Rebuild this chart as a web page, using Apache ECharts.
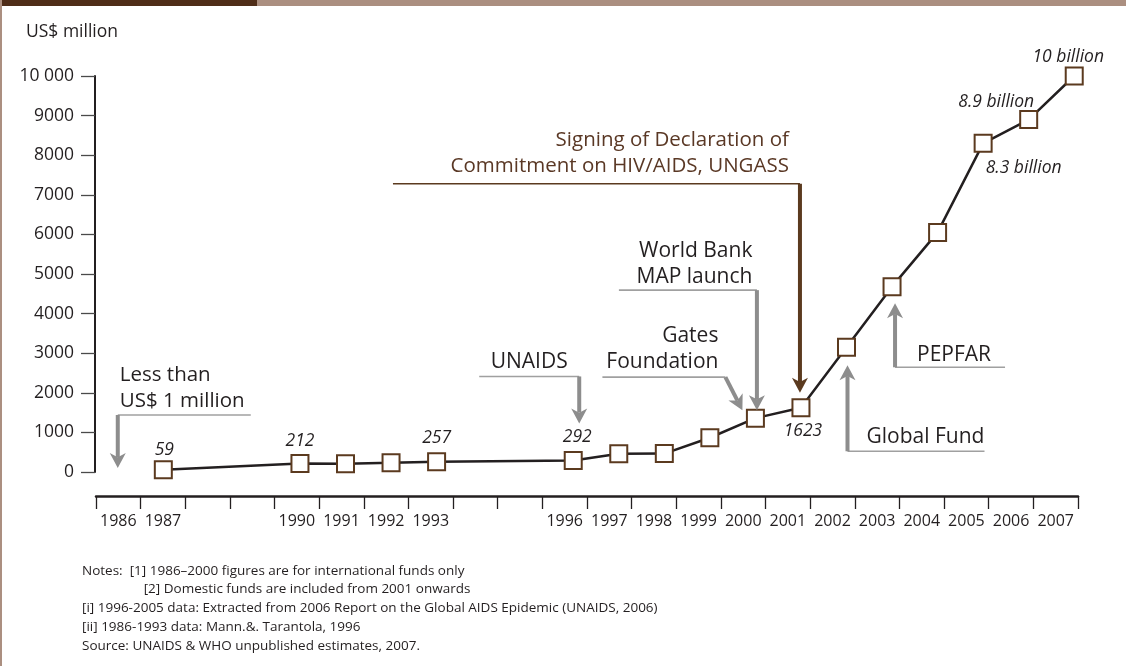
<!DOCTYPE html>
<html>
<head>
<meta charset="utf-8">
<script src="https://cdn.jsdelivr.net/npm/echarts@6/dist/echarts.min.js"></script>
<style>
  html, body { margin: 0; padding: 0; background: #ffffff; }
  #chart { width: 1126px; height: 666px; }
</style>
</head>
<body>
<div id="chart"></div>
<script>
// Annual funding for AIDS in low- and middle-income countries, US$ million
const years = ['1986', '1987', '1988', '1989', '1990', '1991', '1992', '1993', '1994', '1995', '1996',
               '1997', '1998', '1999', '2000', '2001', '2002', '2003', '2004', '2005', '2006', '2007'];
const tickLabels = ['1986', '1987', '1990', '1991', '1992', '1993', '1996', '1997', '1998', '1999',
                    '2000', '2001', '2002', '2003', '2004', '2005', '2006', '2007'];
const funding = [null, 59, null, null, 212, 210, 232, 257, null, null, 292,
                 462, 465, 865, 1360, 1623, 3150, 4680, 6050, 8300, 8900, 10000];
const valueLabels = {
  '1987': '59', '1990': '212', '1993': '257', '1996': '292', '2001': '1623',
  '2005': '8.3 billion', '2006': '8.9 billion', '2007': '10 billion'
};
const yTicks = { min: 0, max: 10000, step: 1000 };
const notesHead = 'Notes:';
const notes = [
  '[1] 1986\u20132000 figures are for international funds only',
  '[2] Domestic funds are included from 2001 onwards',
  '[i] 1996-2005 data: Extracted from 2006 Report on the Global AIDS Epidemic (UNAIDS, 2006)',
  '[ii] 1986-1993 data: Mann.&. Tarantola, 1996',
  'Source: UNAIDS & WHO unpublished estimates, 2007.'
];
// Milestones: [label, year, value the arrow points at]
const milestones = {
  less: ['Less than\nUS$ 1 million', '1986', 0],
  unaids: ['UNAIDS', '1996', 292],
  gates: ['Gates\nFoundation', '2000', 1360],
  worldBank: ['World Bank\nMAP launch', '2000', 1360],
  ungass: ['Signing of Declaration of\nCommitment on HIV/AIDS, UNGASS', '2001', 1623],
  globalFund: ['Global Fund', '2002', 3150],
  pepfar: ['PEPFAR', '2003', 4680]
};

const FONT = '"Open Sans", "Noto Sans", "DejaVu Sans", sans-serif';
const INK = '#231f20';
const BROWN = '#5b3a1f';
const GREY = '#8d8d8d';
const GREY_LINE = '#a0a0a0';

// Placement of value labels around their markers
const labelPlacement = {
  '1987': { position: 'top', distance: 5, offset: [1, 4] },
  '1990': { position: 'top', distance: 5, offset: [0, 1] },
  '1993': { position: 'top', distance: 5, offset: [0, 0] },
  '1996': { position: 'top', distance: 5, offset: [4, 0] },
  '2001': { position: 'bottom', distance: 5, offset: [2, 0] },
  '2005': { position: [12, 34], align: 'left', verticalAlign: 'middle' },
  '2006': { position: [15, -8], align: 'right', verticalAlign: 'middle' },
  '2007': { position: 'top', distance: 5, offset: [-6, 5] }
};

const seriesData = funding.map((v, i) => {
  if (v === null) return null;
  const y = years[i];
  if (!valueLabels[y]) return v;
  return {
    value: v,
    label: Object.assign({
      show: true,
      formatter: valueLabels[y],
      fontFamily: FONT,
      fontStyle: 'italic',
      fontSize: 17.5,
      color: INK
    }, labelPlacement[y])
  };
});

const chart = echarts.init(document.getElementById('chart'), null, { renderer: 'canvas' });

chart.setOption({
  animation: false,
  backgroundColor: '#ffffff',
  grid: [
    { left: 95, top: 76, width: 1002, height: 396 },   // plotting area
    { left: 96, top: 400, width: 982, height: 96 }     // year axis below the plot
  ],
  xAxis: [
    {
      gridIndex: 1,
      type: 'category',
      data: years,
      boundaryGap: true,
      axisLine: { show: true, lineStyle: { color: INK, width: 2.5 } },
      axisTick: { show: true, interval: 0, length: 13, lineStyle: { color: INK, width: 1.3 } },
      axisLabel: {
        interval: 0,
        margin: 17,
        fontFamily: FONT,
        fontSize: 16,
        color: INK,
        formatter: (v) => tickLabels.includes(v) ? v : ''
      },
      splitLine: { show: false }
    },
    {
      gridIndex: 0,
      type: 'category',
      data: years,
      boundaryGap: true,
      show: false
    }
  ],
  yAxis: [
    {
      gridIndex: 0,
      type: 'value',
      min: yTicks.min,
      max: yTicks.max,
      interval: yTicks.step,
      axisLine: { show: true, lineStyle: { color: INK, width: 2 } },
      axisTick: { show: true, length: 14, lineStyle: { color: '#4a4a4a', width: 1.3 } },
      axisLabel: {
        margin: 21,
        fontFamily: FONT,
        fontSize: 17.5,
        color: INK,
        formatter: (v) => v === 10000 ? '10 000' : String(v)
      },
      splitLine: { show: false }
    },
    { gridIndex: 1, type: 'value', show: false }
  ],
  series: [
    {
      type: 'line',
      xAxisIndex: 1,
      yAxisIndex: 0,
      data: seriesData,
      connectNulls: true,
      symbol: 'rect',
      symbolSize: 17,
      showAllSymbol: true,
      lineStyle: { color: INK, width: 2.5 },
      itemStyle: { color: '#ffffff', borderColor: BROWN, borderWidth: 2 },
      emphasis: { disabled: true },
      z: 5
    }
  ]
});

// ---- milestone arrows and framing, placed from the plotted scale ----
const toPx = (year, value) => chart.convertToPixel({ xAxisIndex: 1, yAxisIndex: 0 }, [years.indexOf(year), value]);

function textEl(text, x, y, opts) {
  return {
    type: 'text',
    z: 20,
    style: Object.assign({
      text: text, x: x, y: y,
      fill: INK,
      font: '20px ' + FONT,
      fontFamily: FONT,
      fontSize: 20,
      lineHeight: 26,
      align: 'left', textAlign: 'left',
      verticalAlign: 'middle', textVerticalAlign: 'middle'
    }, opts || {})
  };
}

function arrowEls(corner, tip, lineEndX, color, lineColor, headW, headL, shaftW) {
  const dx = tip[0] - corner[0], dy = tip[1] - corner[1];
  const len = Math.hypot(dx, dy);
  const ux = dx / len, uy = dy / len, nx = -uy, ny = ux;
  const bx = tip[0] - ux * headL, by = tip[1] - uy * headL;
  const notch = [tip[0] - ux * headL * 0.72, tip[1] - uy * headL * 0.72];
  return [
    { type: 'line', z: 10, shape: { x1: lineEndX, y1: corner[1], x2: corner[0], y2: corner[1] },
      style: { stroke: lineColor, lineWidth: 1.6 } },
    { type: 'line', z: 10, shape: { x1: corner[0], y1: corner[1], x2: notch[0], y2: notch[1] },
      style: { stroke: color, lineWidth: shaftW, lineCap: 'butt' } },
    { type: 'polygon', z: 11, shape: { points: [
        [tip[0], tip[1]],
        [bx + nx * headW / 2, by + ny * headW / 2],
        notch,
        [bx - nx * headW / 2, by - ny * headW / 2]
      ] }, style: { fill: color } }
  ];
}

function milestone(key, tipOff, cornerOff, lineLen, textOff, textAlign, color, lineColor, fontSize) {
  const m = milestones[key];
  const p = toPx(m[1], m[2]);
  const tip = [p[0] + tipOff[0], p[1] + tipOff[1]];
  const corner = [tip[0] + cornerOff[0], tip[1] + cornerOff[1]];
  const fs = fontSize || 21;
  return arrowEls(corner, tip, corner[0] + lineLen, color, lineColor, 16, 15, 4).concat([
    textEl(m[0], corner[0] + textOff[0], corner[1] + textOff[1], {
      align: textAlign, textAlign: textAlign, fill: color === BROWN ? '#5a3825' : INK,
      font: fs + 'px ' + FONT, fontSize: fs, lineHeight: 26
    })
  ]);
}

const graphics = [
  // frame accents
  { type: 'rect', z: 30, shape: { x: 0, y: 0, width: 257, height: 6 }, style: { fill: '#4f2d18' } },
  { type: 'rect', z: 30, shape: { x: 257, y: 0, width: 869, height: 6 }, style: { fill: '#ab8f80' } },
  { type: 'rect', z: 30, shape: { x: 0, y: 0, width: 2, height: 666 }, style: { fill: '#ab8f80' } },
  // axis unit
  textEl('US$ million', 26, 32, { font: '17.5px ' + FONT, fontSize: 17.5 })
]
  .concat(milestone('less', [0, -4], [0, -53], 133, [2, -27], 'left', GREY, GREY_LINE, 20.5))
  .concat(milestone('unaids', [6, -37], [0, -47], -100, [-50, -14], 'center', GREY, GREY_LINE))
  .concat(milestone('gates', [-13, -8], [-17, -33], -123, [-7, -28], 'right', GREY, GREY_LINE))
  .concat(milestone('worldBank', [1.5, -8], [0, -120], -138, [-4.5, -26.5], 'right', GREY, GREY_LINE))
  .concat(milestone('ungass', [-1, -15], [0, -209], -407, [-11, -30.7], 'right', BROWN, BROWN, 20.5))
  .concat(milestone('globalFund', [1, 18], [0, 86], 137, [19, -14], 'left', GREY, GREY_LINE))
  .concat(milestone('pepfar', [3, 16.6], [0, 64], 110, [22, -12], 'left', GREY, GREY_LINE));

// notes block: the first note follows the heading, the second sits indented beneath it
const NOTE_SIZE = 13.5;
const NOTE_FONT = NOTE_SIZE + 'px ' + FONT;
const measure = document.createElement('canvas').getContext('2d');
measure.font = NOTE_FONT;
const noteLeft = 82;
const headW = measure.measureText(notesHead + '  ').width;
const noteX = [noteLeft + headW, noteLeft + headW + 14, noteLeft, noteLeft, noteLeft];
const noteY = [571, 589.5, 608.5, 627.5, 646.5];
graphics.push(textEl(notesHead, noteLeft, 571, { font: NOTE_FONT, fontSize: NOTE_SIZE, lineHeight: 16 }));
notes.forEach((t, i) => {
  graphics.push(textEl(t, noteX[i], noteY[i], { font: NOTE_FONT, fontSize: NOTE_SIZE, lineHeight: 16 }));
});

chart.setOption({ graphic: { elements: graphics } });
</script>
</body>
</html>
